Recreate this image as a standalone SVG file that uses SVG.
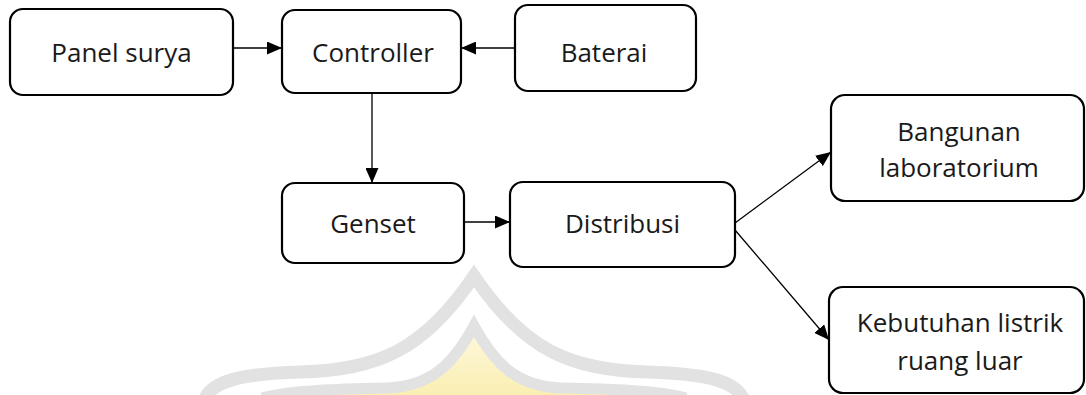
<svg xmlns="http://www.w3.org/2000/svg" width="1086" height="395" viewBox="0 0 1086 395">
  <style>
    .box { fill: #ffffff; stroke: #000000; stroke-width: 2.2; }
    .lbl { font-family: "Open Sans", Calibri, Lato, sans-serif; font-size: 26px; fill: #1a1a1a; text-anchor: middle; }
    .edge { fill: none; stroke: #000000; stroke-width: 1.3; marker-end: url(#head); }
  </style>
  <defs>
    <marker id="head" markerUnits="userSpaceOnUse" markerWidth="15" markerHeight="13" refX="15" refY="6.5" orient="auto">
      <path d="M0,0 L15,6.5 L0,13 Z" fill="#000000"/>
    </marker>
    <linearGradient id="gold" x1="0" y1="0" x2="0" y2="1">
      <stop offset="0" stop-color="#fdf8dc"/>
      <stop offset="1" stop-color="#faeeb0"/>
    </linearGradient>
  </defs>

  <rect width="1086" height="395" fill="#ffffff"/>

  <!-- faint emblem in the background -->
  <g id="emblem">
    <path d="M262,398 C290,390 340,389 388,388 C430,386 452,366 474,330 C496,366 518,386 560,388 C608,389 658,390 686,398 Z" fill="url(#gold)"/>
    <path d="M205,398 C214,381 240,374 300,372 C378,370 424,350 474,276 C524,350 570,370 648,372 C708,374 734,381 743,398" fill="none" stroke="#e2e2e2" stroke-width="13"/>
    <path d="M262,398 C290,390 340,389 388,388 C430,386 452,366 474,326 C496,366 518,386 560,388 C608,389 658,390 686,398" fill="none" stroke="#e2e2e2" stroke-width="11"/>
  </g>

  <g id="connectors">
    <line class="edge" x1="233" y1="48" x2="282" y2="48"/>
    <line class="edge" x1="515" y1="48" x2="461" y2="48"/>
    <line class="edge" x1="372" y1="93" x2="372" y2="183"/>
    <line class="edge" x1="464" y1="222" x2="510" y2="222"/>
    <line class="edge" x1="735" y1="223" x2="831" y2="152"/>
    <line class="edge" x1="735" y1="230" x2="829" y2="340"/>
  </g>

  <g id="panel-surya">
    <rect class="box" x="10" y="9" width="223" height="86" rx="13"/>
    <text class="lbl" x="121.5" y="62">Panel surya</text>
  </g>

  <g id="controller">
    <rect class="box" x="282" y="10" width="179" height="83" rx="13"/>
    <text class="lbl" x="373" y="62">Controller</text>
  </g>

  <g id="baterai">
    <rect class="box" x="515" y="5" width="181" height="86" rx="13"/>
    <text class="lbl" x="604" y="62">Baterai</text>
  </g>

  <g id="genset">
    <rect class="box" x="282" y="183" width="182" height="80" rx="13"/>
    <text class="lbl" x="373" y="233">Genset</text>
  </g>

  <g id="distribusi">
    <rect class="box" x="510" y="182" width="225" height="85" rx="13"/>
    <text class="lbl" x="622.5" y="233">Distribusi</text>
  </g>

  <g id="bangunan-laboratorium">
    <rect class="box" x="831" y="95" width="253" height="106" rx="14"/>
    <text class="lbl" x="959" y="141">Bangunan</text>
    <text class="lbl" x="959" y="177">laboratorium</text>
  </g>

  <g id="kebutuhan-listrik">
    <rect class="box" x="829" y="287" width="255" height="106" rx="14"/>
    <text class="lbl" x="960" y="332">Kebutuhan listrik</text>
    <text class="lbl" x="960" y="370">ruang luar</text>
  </g>
</svg>
